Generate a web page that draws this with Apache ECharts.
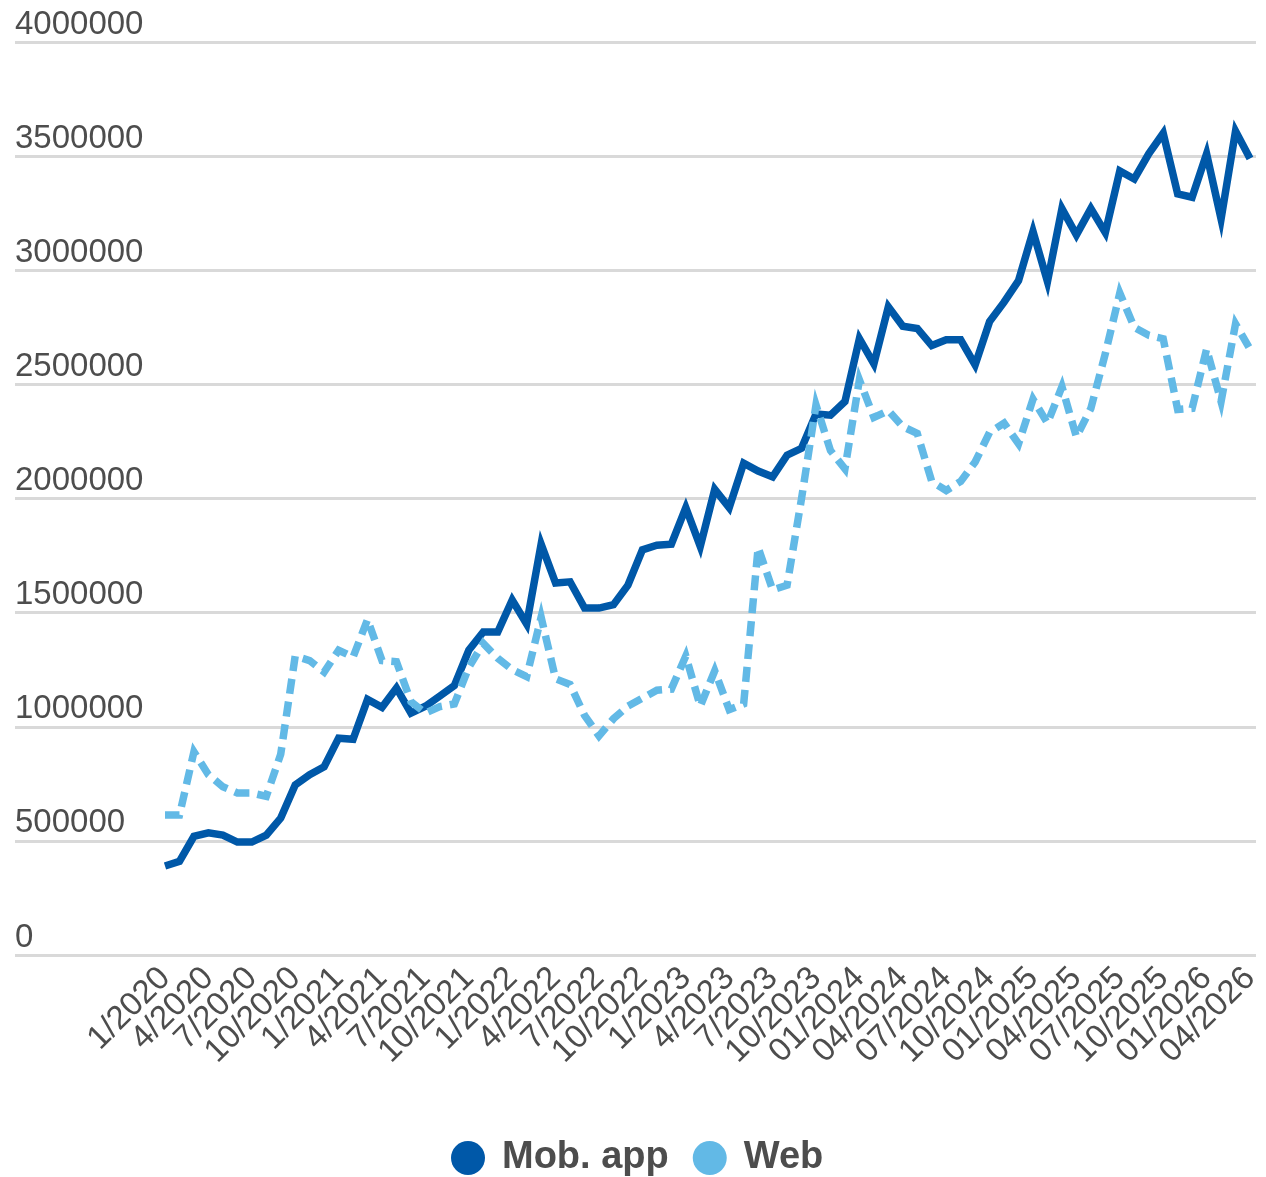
<!DOCTYPE html>
<html>
<head>
<meta charset="utf-8">
<script src="https://cdn.jsdelivr.net/npm/echarts@6/dist/echarts.min.js"></script>
<style>
html,body{margin:0;padding:0;background:#fff;}
#chart{width:1266px;height:1177px;}
</style>
</head>
<body>
<div id="chart"></div>
<script>
const months = [
"1/2020","2/2020","3/2020","4/2020","5/2020","6/2020","7/2020","8/2020","9/2020","10/2020","11/2020","12/2020",
"1/2021","2/2021","3/2021","4/2021","5/2021","6/2021","7/2021","8/2021","9/2021","10/2021","11/2021","12/2021",
"1/2022","2/2022","3/2022","4/2022","5/2022","6/2022","7/2022","8/2022","9/2022","10/2022","11/2022","12/2022",
"1/2023","2/2023","3/2023","4/2023","5/2023","6/2023","7/2023","8/2023","9/2023","10/2023","11/2023","12/2023",
"01/2024","02/2024","03/2024","04/2024","05/2024","06/2024","07/2024","08/2024","09/2024","10/2024","11/2024","12/2024",
"01/2025","02/2025","03/2025","04/2025","05/2025","06/2025","07/2025","08/2025","09/2025","10/2025","11/2025","12/2025",
"01/2026","02/2026","03/2026","04/2026"
];

const mobApp = [
390000,410000,520000,535000,525000,495000,495000,525000,600000,745000,
790000,825000,950000,945000,1120000,1085000,1170000,1060000,1090000,1135000,
1180000,1335000,1415000,1415000,1555000,1450000,1800000,1630000,1635000,1520000,
1520000,1535000,1620000,1775000,1795000,1800000,1960000,1790000,2040000,1960000,
2155000,2120000,2095000,2190000,2220000,2370000,2365000,2425000,2700000,2590000,
2840000,2755000,2745000,2670000,2695000,2695000,2585000,2775000,2860000,2955000,
3170000,2950000,3270000,3155000,3270000,3165000,3435000,3400000,3510000,3600000,
3335000,3320000,3510000,3225000,3610000,3490000
];

const web = [
613000,613000,890000,790000,737000,710000,710000,695000,880000,1310000,
1290000,1240000,1335000,1305000,1470000,1290000,1285000,1110000,1060000,1088000,
1100000,1260000,1365000,1300000,1250000,1220000,1480000,1210000,1185000,1050000,
960000,1035000,1090000,1125000,1160000,1165000,1310000,1090000,1245000,1075000,
1100000,1785000,1600000,1620000,2000000,2410000,2210000,2130000,2520000,2355000,
2385000,2315000,2285000,2075000,2035000,2075000,2160000,2290000,2330000,2240000,
2435000,2330000,2490000,2270000,2395000,2635000,2900000,2750000,2715000,2700000,
2390000,2395000,2655000,2425000,2765000,2655000
];

const seriesNames = ["Mob. app", "Web"];
const colors = ["#0058a8", "#62b9e6"];
const yTicks = { min: 0, max: 4000000, step: 500000 };
const labelEvery = 3;

const chart = echarts.init(document.getElementById('chart'), null, {renderer: 'canvas'});
const FONT = '"Liberation Sans", Arial, sans-serif';
const TEXT = '#4d4d4d';

// three overlapping category axes, each showing every third label (9 months apart),
// so ECharts' first/last label overlap check never hides a label
function labelAxis(phase, isMain) {
  return {
    type: 'category', gridIndex: 1, data: months, boundaryGap: false, position: 'bottom', offset: 0,
    axisLine: {show: false}, axisTick: {show: false}, splitLine: {show: false},
    axisLabel: {
      interval: function (i) { return i % (labelEvery * 3) === phase * labelEvery; },
      rotate: 45, margin: 18, showMinLabel: true, showMaxLabel: true, hideOverlap: false,
      fontFamily: FONT, fontSize: 33, color: TEXT
    }
  };
}

chart.setOption({
  animation: false,
  backgroundColor: '#ffffff',
  grid: [
    {left: 15, right: 10, top: 42, bottom: 222, containLabel: false},
    {left: 165, right: 16, top: 42, bottom: 222, containLabel: false}
  ],
  legend: {
    data: seriesNames,
    bottom: -5,
    left: 446,
    icon: 'circle',
    itemWidth: 34,
    itemHeight: 34,
    itemGap: 24,
    textStyle: {fontFamily: FONT, fontSize: 38, fontWeight: 'bold', color: TEXT, padding: [0, 0, 0, 12]}
  },
  xAxis: [
    {type: 'value', gridIndex: 0, show: false, min: 0, max: 1},
    labelAxis(0), labelAxis(1), labelAxis(2)
  ],
  yAxis: [
    {
      type: 'value', gridIndex: 0, min: yTicks.min, max: yTicks.max, interval: yTicks.step,
      axisLine: {show: false}, axisTick: {show: false},
      splitLine: {show: true, lineStyle: {color: '#d9d9d9', width: 3}},
      axisLabel: {inside: true, margin: 0, verticalAlign: 'bottom', padding: [0, 0, 1, 0],
                  formatter: function (v) { return String(v); },
                  fontFamily: FONT, fontSize: 33, color: TEXT}
    },
    {type: 'value', gridIndex: 1, min: yTicks.min, max: yTicks.max, show: false, splitLine: {show: false}}
  ],
  series: [
    {
      name: seriesNames[0], type: 'line', xAxisIndex: 1, yAxisIndex: 1, data: mobApp,
      showSymbol: false, symbol: 'none', color: colors[0],
      lineStyle: {color: colors[0], width: 7.5, join: 'miter'}
    },
    {
      name: seriesNames[1], type: 'line', xAxisIndex: 1, yAxisIndex: 1, data: web,
      showSymbol: false, symbol: 'none', color: colors[1],
      lineStyle: {color: colors[1], width: 7.5, type: [15, 8], join: 'miter'}
    }
  ]
});
</script>
</body>
</html>
